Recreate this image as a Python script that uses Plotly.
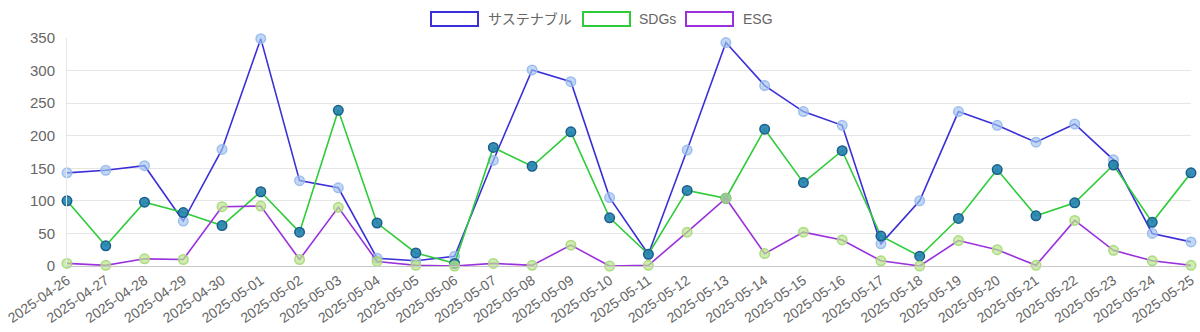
import plotly.graph_objects as go

dates = ["2025-04-26", "2025-04-27", "2025-04-28", "2025-04-29", "2025-04-30",
         "2025-05-01", "2025-05-02", "2025-05-03", "2025-05-04", "2025-05-05",
         "2025-05-06", "2025-05-07", "2025-05-08", "2025-05-09", "2025-05-10",
         "2025-05-11", "2025-05-12", "2025-05-13", "2025-05-14", "2025-05-15",
         "2025-05-16", "2025-05-17", "2025-05-18", "2025-05-19", "2025-05-20",
         "2025-05-21", "2025-05-22", "2025-05-23", "2025-05-24", "2025-05-25"]

sustainable = [143, 147, 154, 69, 179, 349, 131, 120, 12, 8,
               15, 162, 301, 283, 105, 18, 178, 343, 277, 237,
               216, 34, 100, 237, 216, 190, 218, 163, 50, 37]
sdgs = [100, 31, 98, 82, 62, 114, 52, 239, 66, 20,
        4, 182, 153, 206, 74, 18, 116, 104, 210, 128,
        177, 46, 15, 73, 148, 77, 97, 155, 67, 143]
esg = [4, 1, 11, 10, 91, 92, 10, 90, 7, 1,
       0, 4, 1, 32, 0, 1, 52, 104, 19, 52,
       40, 8, 0, 39, 25, 1, 70, 24, 8, 1]

series_names = ["サステナブル", "SDGs", "ESG"]
line_colors = ["#3a2fd8", "#2fcc3a", "#9b30dd"]
marker_fill = ["rgba(160,195,240,0.65)", "rgba(35,130,175,0.9)", "rgba(185,230,140,0.7)"]
marker_line = ["rgba(150,185,235,0.9)", "rgba(25,95,140,1)", "rgba(165,215,120,0.9)"]

x_idx = list(range(len(dates)))

fig = go.Figure()
for name, ys, lc, mf, ml in zip(series_names, [sustainable, sdgs, esg],
                                line_colors, marker_fill, marker_line):
    fig.add_trace(go.Scatter(
        x=x_idx, y=ys, name=name, mode="lines+markers",
        line=dict(color=lc, width=1.6),
        marker=dict(size=9.5, color=mf, line=dict(color=ml, width=1.5)),
        showlegend=False, cliponaxis=False,
        hovertemplate="%{y}<extra>" + name + "</extra>",
    ))

W, H = 1200, 332
ml_, mr_, mt_, mb_ = 67, 9, 38, 66
pw = W - ml_ - mr_
ph = H - mt_ - mb_

def px_to_paper_x(px):
    return (px - ml_) / pw

def px_to_paper_y(py):
    return (H - mb_ - py) / ph

# legend (Chart.js style outlined boxes)
legend_items = [(431, 478, 486, "サステナブル"), (583, 630, 637, "SDGs"), (686, 733, 741, "ESG")]
shapes = []
annotations = []
for (x0, x1, tx, label), lc in zip(legend_items, line_colors):
    shapes.append(dict(type="rect", xref="paper", yref="paper",
                       x0=px_to_paper_x(x0), x1=px_to_paper_x(x1),
                       y0=px_to_paper_y(26), y1=px_to_paper_y(12),
                       line=dict(color=lc, width=2), fillcolor="rgba(255,255,255,0)"))
    annotations.append(dict(xref="paper", yref="paper", x=px_to_paper_x(tx),
                            y=px_to_paper_y(19), text=label, showarrow=False,
                            xanchor="left", yanchor="middle",
                            font=dict(size=14, color="#666666")))

fig.update_layout(
    width=W, height=H,
    margin=dict(l=ml_, r=mr_, t=mt_, b=mb_),
    paper_bgcolor="white", plot_bgcolor="white",
    font=dict(family="Liberation Sans, Arial, Noto Sans CJK JP, sans-serif", color="#666666", size=14),
    shapes=shapes, annotations=annotations,
    hovermode="closest",
)
fig.update_xaxes(
    range=[0, len(dates) - 1], tickmode="array", tickvals=x_idx, ticktext=dates,
    tickangle=-35, showgrid=False, zeroline=False,
    showline=True, linecolor="#c8c8c8", linewidth=1,
    tickfont=dict(size=14, color="#666666"), automargin=False,
    ticks="", ticklen=0, ticklabelstandoff=0,
)
fig.update_yaxes(
    range=[0, 350], tickvals=[0, 50, 100, 150, 200, 250, 300, 350],
    showgrid=True, gridcolor="#e6e6e6", gridwidth=1, zeroline=False,
    showline=True, linecolor="#e6e6e6", linewidth=1,
    tickfont=dict(size=15, color="#666666"), automargin=False,
    ticks="", ticklabelstandoff=8,
)

fig.write_html("out.html")
